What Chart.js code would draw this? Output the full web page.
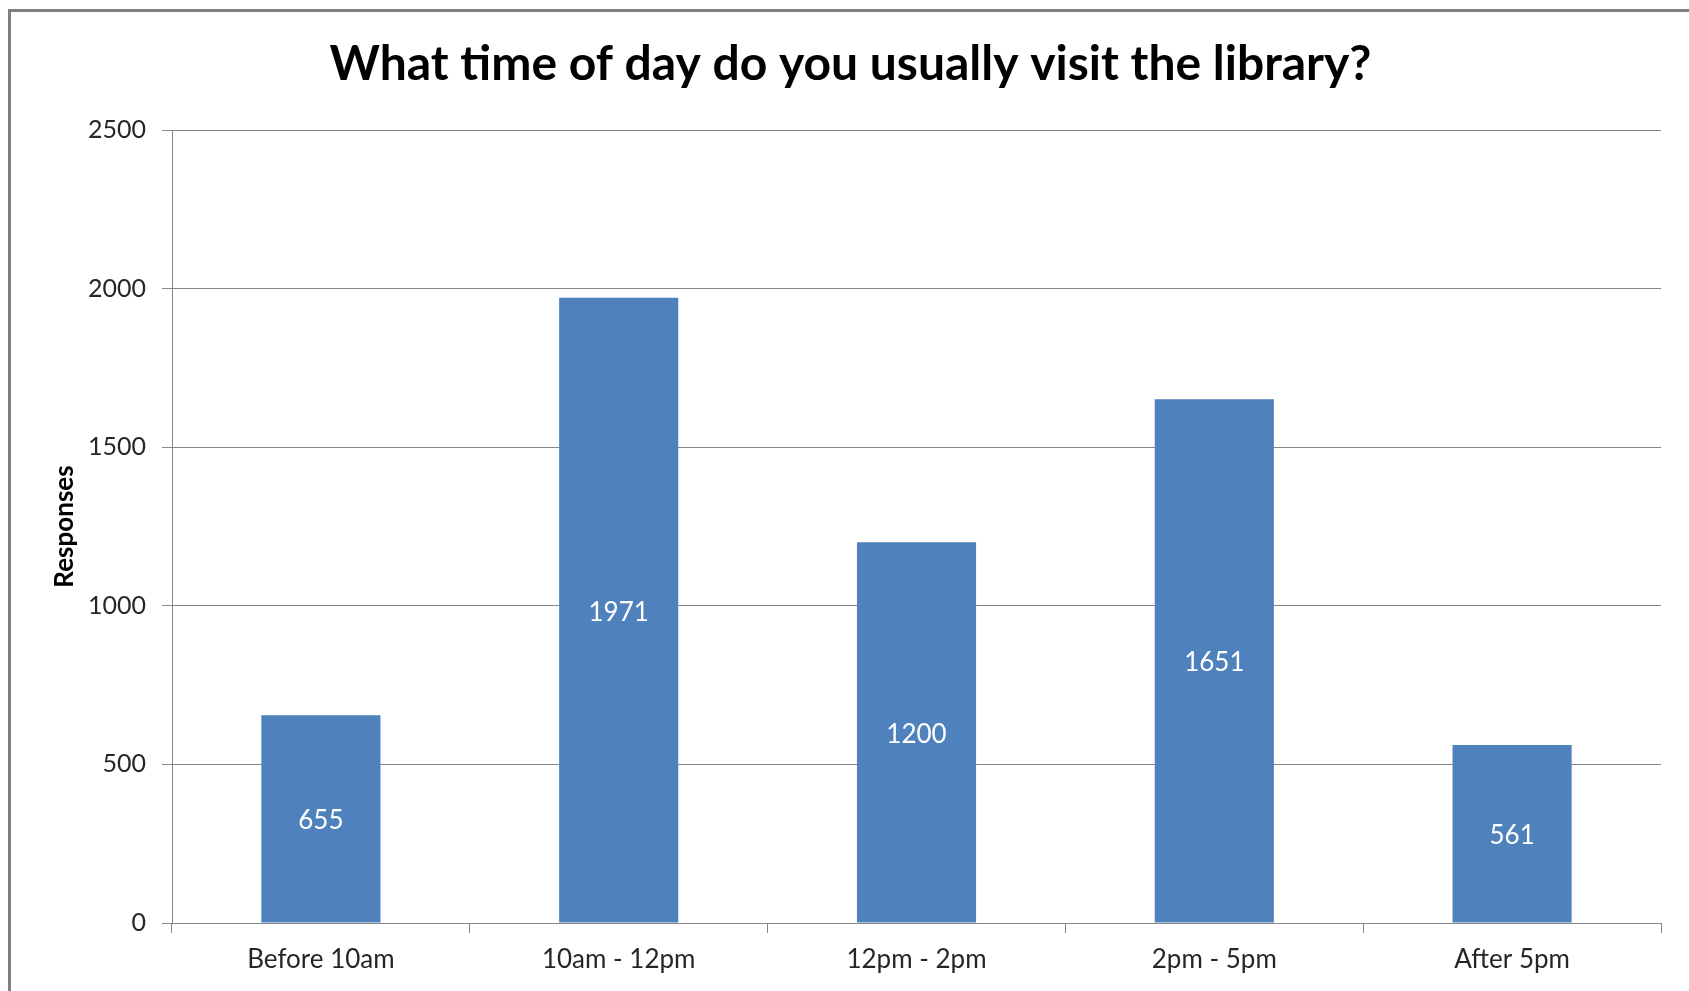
<!DOCTYPE html>
<html>
<head>
<meta charset="utf-8">
<script src="https://cdn.jsdelivr.net/npm/chart.js@4/dist/chart.umd.min.js"></script>
<style>
  html, body { margin: 0; padding: 0; background: #ffffff; overflow: hidden; }
  #wrap { position: absolute; left: 0; top: 0; width: 1689px; height: 991px; }
</style>
</head>
<body>
<div id="wrap"><canvas id="c" width="1689" height="991"></canvas></div>
<script>
const categories = ["Before 10am", "10am - 12pm", "12pm - 2pm", "2pm - 5pm", "After 5pm"];
const responses = [655, 1971, 1200, 1651, 561];
const yTicks = [0, 500, 1000, 1500, 2000, 2500];
const chartTitle = "What time of day do you usually visit the library?";
const yTitle = "Responses";

const FONT = "Lato, 'Open Sans', 'Liberation Sans', sans-serif";
const GRID = "#868686";

const frame = {
  id: "frame",
  beforeDraw(chart) {
    const ctx = chart.ctx;
    ctx.save();
    ctx.fillStyle = "#ffffff";
    ctx.fillRect(0, 0, chart.width, chart.height);
    ctx.strokeStyle = "#808080";
    ctx.lineWidth = 3;
    ctx.strokeRect(9.5, 10.5, 3000, 3000);
    ctx.restore();
  }
};

const barLabels = {
  id: "barLabels",
  afterDatasetsDraw(chart) {
    const ctx = chart.ctx;
    const meta = chart.getDatasetMeta(0);
    ctx.save();
    ctx.fillStyle = "#ffffff";
    ctx.font = "26px " + FONT;
    ctx.textAlign = "center";
    ctx.textBaseline = "middle";
    meta.data.forEach((bar, i) => {
      ctx.fillText(String(responses[i]), bar.x, (bar.y + bar.base) / 2 + 2);
    });
    ctx.restore();
  }
};

new Chart(document.getElementById("c"), {
  type: "bar",
  data: {
    labels: categories,
    datasets: [{
      data: responses,
      backgroundColor: "#4F81BD",
      borderWidth: 0,
      barPercentage: 0.4,
      categoryPercentage: 1.0
    }]
  },
  options: {
    responsive: false,
    animation: false,
    devicePixelRatio: 1,
    layout: { padding: { left: 40, right: 28, top: 0, bottom: 0 } },
    plugins: {
      legend: { display: false },
      tooltip: { enabled: false },
      title: {
        display: true,
        text: chartTitle,
        color: "#000000",
        font: { family: FONT, size: 48, weight: "bold", lineHeight: 1.2 },
        padding: { top: 36.2, bottom: 36.2 }
      }
    },
    scales: {
      x: {
        grid: {
          display: true,
          drawOnChartArea: false,
          drawTicks: true,
          tickLength: 10,
          color: GRID,
          offset: true
        },
        border: { display: true, color: GRID, width: 1 },
        ticks: {
          color: "#262626",
          font: { family: FONT, size: 26 },
          padding: 11,
          maxRotation: 0
        },
        afterFit(scale) { scale.height = 68; }
      },
      y: {
        min: 0,
        max: 2500,
        afterBuildTicks(scale) { scale.ticks = yTicks.map(v => ({ value: v })); },
        grid: {
          color: GRID,
          drawTicks: true,
          tickLength: 10
        },
        border: { display: true, color: GRID, width: 1 },
        ticks: {
          color: "#262626",
          font: { family: FONT, size: 25 },
          padding: 16,
          callback: (v) => String(v)
        },
        title: {
          display: true,
          text: yTitle,
          color: "#000000",
          font: { family: FONT, size: 26, weight: "bold", lineHeight: 1.2 },
          padding: { top: 9.4, bottom: 0 }
        },
        afterFit(scale) { scale.width = 132; }
      }
    }
  },
  plugins: [frame, barLabels]
});
</script>
</body>
</html>
